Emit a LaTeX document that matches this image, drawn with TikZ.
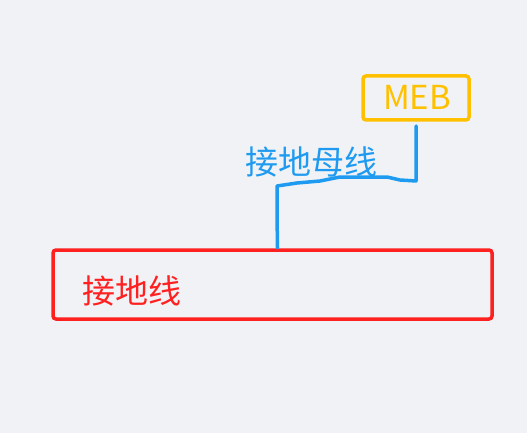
\documentclass[tikz,border=0pt]{standalone}
\usepackage{fontspec}
\newfontfamily\cjk{Noto Sans CJK SC}
\definecolor{bg}{HTML}{F0F2F5}
\definecolor{mebc}{HTML}{FFC000}
\definecolor{busc}{HTML}{1E9BF0}
\definecolor{redc}{HTML}{FF2020}
\tikzset{
  boxstyle/.style={draw, line width=3.5pt, rounded corners=3pt, inner sep=0pt},
  wire/.style={draw=busc, line width=3.5pt, line join=round, line cap=round}
}
\begin{document}
\begin{tikzpicture}[x=1pt,y=-1pt]
\fill[bg] (0,0) rectangle (527,433);
\useasboundingbox (0,0) rectangle (527,433);
\node[boxstyle, draw=mebc, minimum width=106pt, minimum height=44pt] (meb) at (416,98) {};
\node[text=mebc, font=\cjk\fontsize{33}{33}\selectfont] (mebt) at (417,97) {MEB};
\node[boxstyle, draw=redc, minimum width=439pt, minimum height=69pt] (gnd) at (272.5,284.5) {};
\node[text=redc, font=\cjk\fontsize{33}{33}\selectfont] (gndt) at (132,291) {接地线};
\node[text=busc, font=\cjk\fontsize{33}{33}\selectfont] (bust) at (311,162) {接地母线};
\coordinate (top) at (416,126);
\coordinate (bot) at (277.5,248);
\draw[wire] (top) -- (416,181) -- (400,180) -- (387,177) -- (340,177) -- (320,181) -- (297,183) -- (277,186) -- (277,215) -- (bot);
\end{tikzpicture}
\end{document}
